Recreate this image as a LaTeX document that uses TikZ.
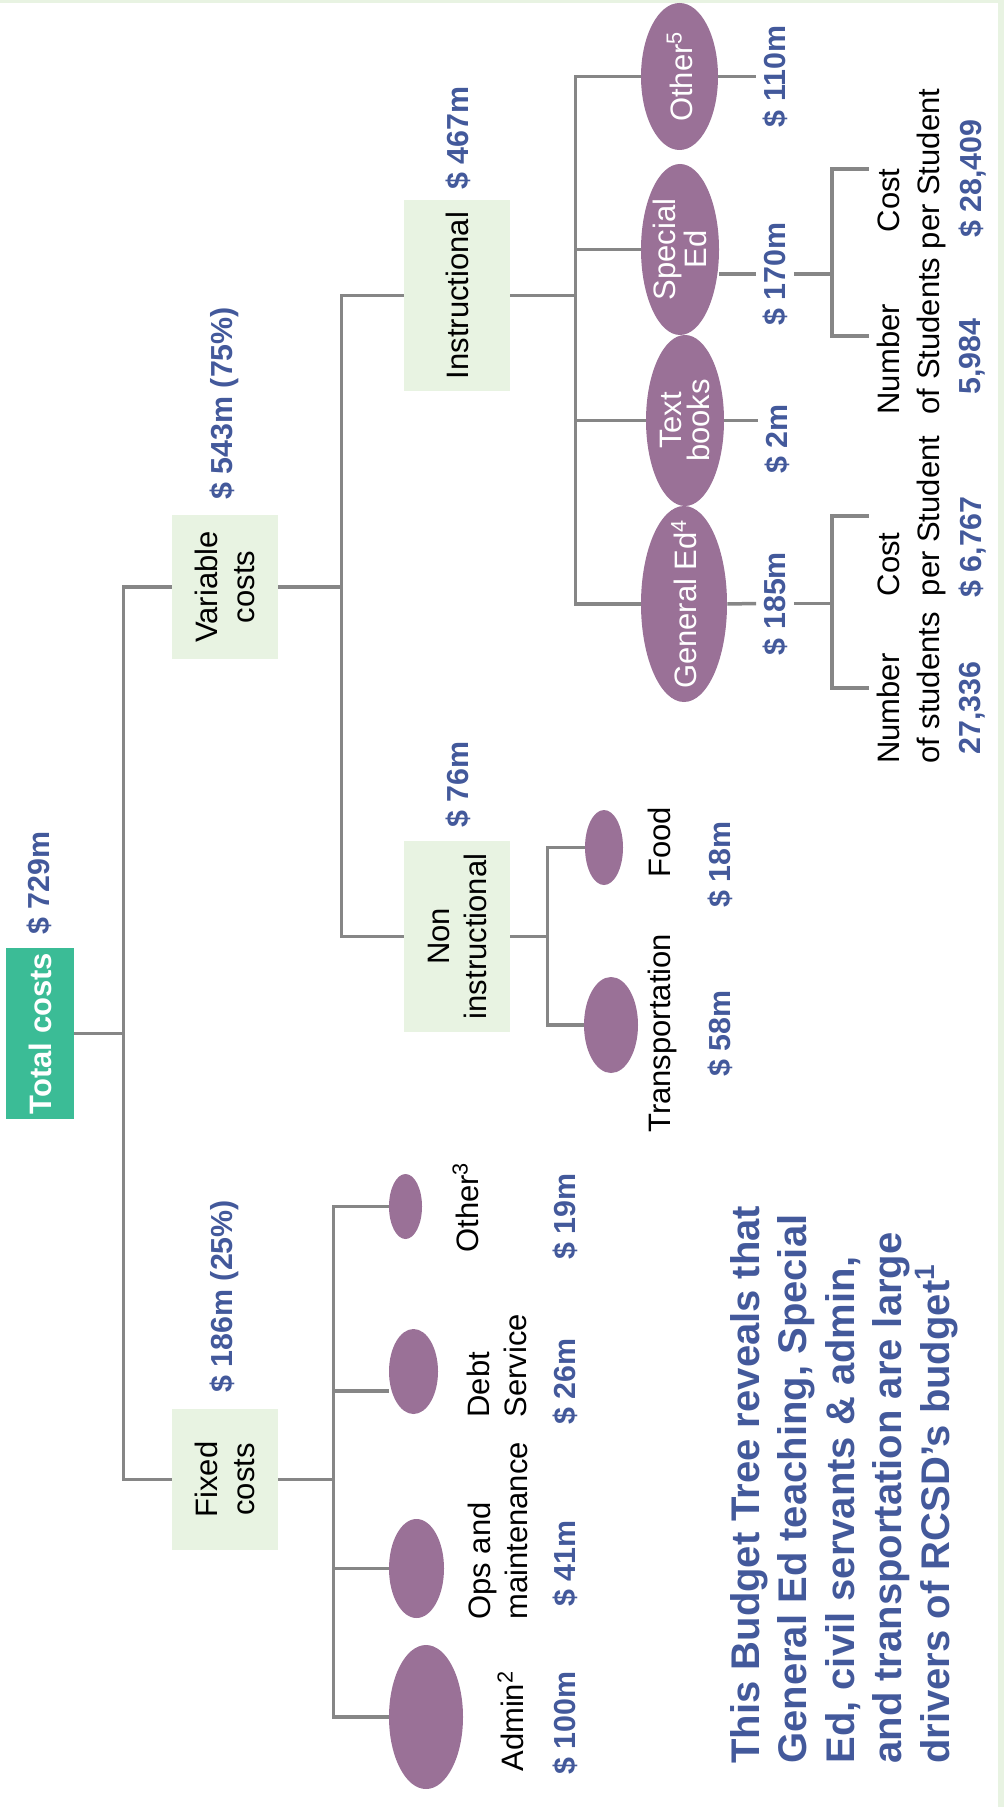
\documentclass[tikz,border=0pt]{standalone}
\usepackage{fontspec}
\setmainfont{Liberation Sans}
\usetikzlibrary{shapes.geometric}
\definecolor{linkgray}{RGB}{134,134,134}
\definecolor{boxgreen}{RGB}{232,243,226}
\definecolor{rootteal}{RGB}{59,188,150}
\definecolor{leafpurple}{RGB}{154,113,151}
\definecolor{valblue}{RGB}{67,89,155}
\begin{document}
\begin{tikzpicture}[x=0.5pt, y=-0.5pt,
	every node/.style={rotate=90},
	link/.style={draw=linkgray, line width=1.75pt},
	costbox/.style={fill=boxgreen, inner sep=0pt, align=center, font=\fontsize{15.5}{18.5}\selectfont},
	leaf/.style={ellipse, fill=leafpurple, inner sep=0pt},
	leaftext/.style={text=white, inner sep=0pt, align=center, font=\fontsize{15.5}{14}\selectfont},
	item/.style={anchor=north west, inner sep=0pt, align=left, font=\fontsize{15.5}{18.5}\selectfont},
	amount/.style={anchor=north west, inner sep=0pt, text=valblue, font=\bfseries\fontsize{15.2}{18}\selectfont},
	online/.style={inner sep=3pt, text=valblue, font=\bfseries\fontsize{15.2}{18}\selectfont},
	ratio/.style={anchor=north, inner sep=4pt, align=left, font=\fontsize{15.5}{20}\selectfont}]
	\fill[boxgreen] (0,0) rectangle (1004,3);
	\fill[boxgreen] (998,0) rectangle (1004,1807);
	\useasboundingbox (0,0) rectangle (1004,1807);

	\node[costbox, fill=rootteal, text=white, font=\bfseries\fontsize{15.5}{18.5}\selectfont, minimum width=85.5pt, minimum height=34pt] (root) at (40,1033.5) {Total costs};
	\node[costbox, minimum width=70.5pt, minimum height=53pt] (fix) at (225,1479.5) {Fixed\\costs};
	\node[costbox, minimum width=72pt, minimum height=53pt] (var) at (225,587) {Variable\\costs};
	\node[costbox, minimum width=95.5pt, minimum height=53pt] (non) at (457,936.5) {Non\\instructional};
	\node[costbox, minimum width=95.5pt, minimum height=53pt] (ins) at (457,295.5) {Instructional};

	\node[leaf, minimum width=72pt, minimum height=37pt] (adm) at (426,1717) {};
	\node[leaf, minimum width=49.5pt, minimum height=27.5pt] (ops) at (416.5,1568.5) {};
	\node[leaf, minimum width=42.5pt, minimum height=24.5pt] (dbt) at (413.5,1371.5) {};
	\node[leaf, minimum width=32.5pt, minimum height=16.5pt] (oth3) at (405.5,1206.5) {};
	\node[leaf, minimum width=37.5pt, minimum height=19pt] (fod) at (604,847.5) {};
	\node[leaf, minimum width=48pt, minimum height=27pt] (trn) at (611,1025) {};
	\node[leaf, minimum width=98pt, minimum height=43pt, label={[leaftext]center:General Ed\textsuperscript{4}}] (gen) at (684,604) {};
	\node[leaf, minimum width=85.5pt, minimum height=39pt, label={[leaftext]center:{Text\\books}}] (txt) at (685,420.5) {};
	\node[leaf, minimum width=85.5pt, minimum height=39pt, label={[leaftext]center:{Special\\Ed}}] (spe) at (680,249.5) {};
	\node[leaf, minimum width=73.5pt, minimum height=38.5pt, label={[leaftext]center:Other\textsuperscript{5}}] (oth5) at (679.5,76.5) {};

	\node[amount] (v729) at (27,935) {\$ 729m};
	\node[amount] (v186) at (210,1393) {\$ 186m (25\%)};
	\node[amount] (v543) at (210,500) {\$ 543m (75\%)};
	\node[amount] (v467) at (446,190) {\$ 467m};
	\node[amount] (v76) at (446,828) {\$ 76m};

	\node[item] (admt) at (497,1772) {Admin\textsuperscript{2}};
	\node[item] (opst) at (468,1620) {Ops and\\maintenance};
	\node[item] (dbtt) at (467,1418) {Debt\\Service};
	\node[item] (oth3t) at (452,1253) {Other\textsuperscript{3}};
	\node[item] (fodt) at (648,878) {Food};
	\node[item] (trnt) at (648,1133) {Transportation};
	\node[amount] (v100) at (553,1775) {\$ 100m};
	\node[amount] (v41) at (553,1607) {\$ 41m};
	\node[amount] (v26) at (553,1425) {\$ 26m};
	\node[amount] (v19) at (553,1260) {\$ 19m};
	\node[amount] (v18) at (708,908) {\$ 18m};
	\node[amount] (v58) at (708,1077) {\$ 58m};

	\node[online] (v185) at (775,603.5) {\$ 185m};
	\node[online] (v2) at (777,439) {\$ 2m};
	\node[online] (v170) at (775,274) {\$ 170m};
	\node[online] (v110) at (775,76.5) {\$ 110m};

	\node[ratio] (gnum) at (869,688) {Number\\of students};
	\node[ratio] (gcst) at (869,516) {Cost\\per Student};
	\node[ratio] (snum) at (869,336) {Number\\of Students};
	\node[ratio] (scst) at (869,169) {\hspace*{8.5pt}Cost\\per Student};
	\node[amount] (g27) at (959,755) {27,336};
	\node[amount] (g67) at (959,598) {\$ 6,767};
	\node[amount] (s59) at (959,395) {5,984};
	\node[amount] (s28) at (959,238) {\$ 28,409};

	\draw[link] (root.south) -- ++(49,0) coordinate (rj) |- (var.north) (rj) |- (fix.north);
	\draw[link] (fix.south) -- ++(55,0) coordinate (fj) |- (adm.north) (fj) |- (ops.north) (fj) |- ([yshift=-9.75pt]dbt.north) (fj) |- (oth3.north);
	\draw[link] (var.south) -- ++(63,0) coordinate (vj) |- (non.north) (vj) |- (ins.north);
	\draw[link] (non.south) -- ++(37,0) coordinate (nj) |- (fod.north) (nj) |- (trn.north);
	\draw[link] (ins.south) -- ++(65,0) coordinate (ij) |- (gen.north) (ij) |- (txt.north) (ij) |- (spe.north) (ij) |- (oth5.north);
	\draw[link] (gen.south) -- (v185.north);
	\draw[link] (txt.south) -- (txt.south -| v2.north);
	\draw[link] (spe.south |- v170) -- (v170.north);
	\draw[link] (oth5.south) -- (v110.north);
	\draw[link] (v185.south) -- ++(38,0) coordinate (gj) |- (gnum.north) (gj) |- (gcst.north);
	\draw[link] (v170.south) -- ++(38,0) coordinate (sj) |- (snum.north) (sj) |- (scst.north);

	\node[anchor=north west, inner sep=0pt, align=left, text=valblue, font=\bfseries\fontsize{20}{23.75}\selectfont] (note) at (730,1764) {This Budget Tree reveals that\\General Ed teaching, Special\\Ed, civil servants \& admin,\\and transportation are large\\drivers of RCSD's budget\textsuperscript{1}};
\end{tikzpicture}
\end{document}
